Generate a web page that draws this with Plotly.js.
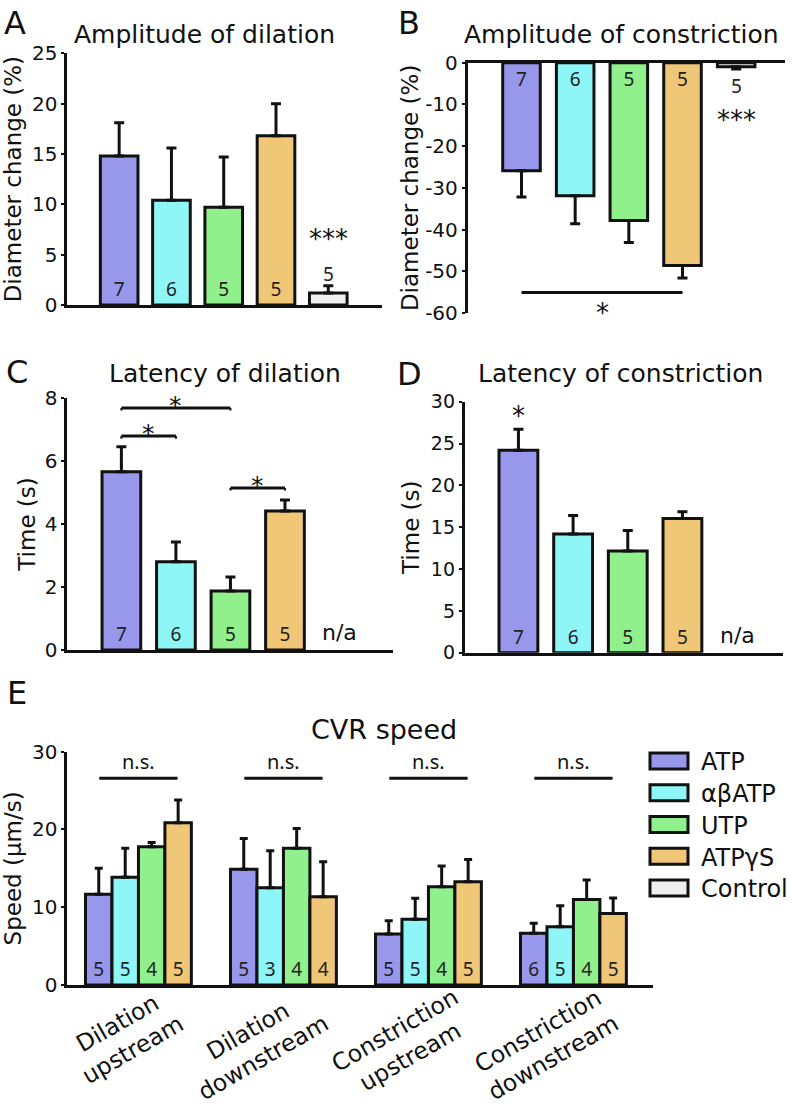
<!DOCTYPE html>
<html><head><meta charset="utf-8">
<script src="https://cdn.plot.ly/plotly-3.0.1.min.js"></script>
<style>html,body{margin:0;padding:0;background:#fff}#chart{width:793px;height:1109px}</style>
</head><body><div id="chart"></div>
<script>
// ---------- data ----------
const agents = ['ATP', 'αβATP', 'UTP', 'ATPγS', 'Control'];
const agentColors = ['#9797EB', '#8FF6F8', '#8FF08C', '#F0C677', '#EEEFEE'];

// A: amplitude of dilation (%)
const dilAmp    = [14.8, 10.4, 9.7, 16.8, 1.2];
const dilAmpSem = [3.3, 5.2, 5.0, 3.2, 0.7];
const dilAmpN   = [7, 6, 5, 5, 5];

// B: amplitude of constriction (%)
const conAmp    = [-25.9, -31.9, -37.8, -48.6, -1.0];
const conAmpSem = [6.3, 6.7, 5.3, 3.0, 0.5];
const conAmpN   = [7, 6, 5, 5, 5];

// C: latency of dilation (s) – Control n/a
const dilLat    = [5.66, 2.80, 1.87, 4.41, null];
const dilLatSem = [0.79, 0.63, 0.45, 0.35, null];
const dilLatN   = [7, 6, 5, 5, null];

// D: latency of constriction (s) – Control n/a
const conLat    = [24.2, 14.2, 12.15, 16.05, null];
const conLatSem = [2.5, 2.2, 2.45, 0.8, null];
const conLatN   = [7, 6, 5, 5, null];

// E: CVR speed (µm/s)
const cvrGroups = ['Dilation<br>upstream', 'Dilation<br>downstream', 'Constriction<br>upstream', 'Constriction<br>downstream'];
const cvrATP      = [11.66, 14.9, 6.55, 6.64];
const cvrATPSem   = [3.34, 3.95, 1.72, 1.29];
const cvrATPN     = [5, 5, 5, 6];
const cvrAB       = [13.84, 12.5, 8.44, 7.5];
const cvrABSem    = [3.73, 4.76, 2.7, 2.7];
const cvrABN      = [5, 3, 5, 5];
const cvrUTP      = [17.78, 17.57, 12.64, 11.0];
const cvrUTPSem   = [0.56, 2.57, 2.66, 2.5];
const cvrUTPN     = [4, 4, 4, 4];
const cvrGS       = [20.86, 11.35, 13.28, 9.2];
const cvrGSSem    = [2.92, 4.5, 2.87, 2.0];
const cvrGSN      = [5, 4, 5, 5];

// tick values
const ticksA = [0, 5, 10, 15, 20, 25];
const ticksB = [-60, -50, -40, -30, -20, -10, 0];
const ticksC = [0, 2, 4, 6, 8];
const ticksD = [0, 5, 10, 15, 20, 25, 30];
const ticksE = [0, 10, 20, 30];

// significance
const sigC = [[0, 2, 7.68], [0, 1, 6.79], [2, 3, 5.14]];
const sigB = [[0, 3, -55.1]];
const nsLevel = 26.6;

// ---------- style ----------
const FONT = 'DejaVu Sans';
const NUMFONT = 'Noto Sans';
const INK = '#111';
const zeros = n => new Array(n).fill(0);

function panelBars(xa, ya, x, y, sem, n, cols, up, width, name) {
  return {
    type: 'bar', xaxis: xa, yaxis: ya, x: x, y: y, width: width,
    offsetgroup: 'g', name: name || '', showlegend: !!name,
    marker: {color: cols, line: {color: INK, width: 3}},
    text: n.map(v => (v == null ? '' : String(v))),
    textposition: 'inside', insidetextanchor: 'start', textangle: 0,
    insidetextfont: {family: NUMFONT, size: 19, color: '#222'},
    error_y: up ? {type: 'data', symmetric: false, array: sem, arrayminus: zeros(sem.length), color: INK, thickness: 3, width: 5}
                : {type: 'data', symmetric: false, array: zeros(sem.length), arrayminus: sem, color: INK, thickness: 3, width: 5},
    cliponaxis: false, hoverinfo: 'skip'
  };
}

const data = [];
data.push(panelBars('x', 'y', agents.slice(0, 4), dilAmp.slice(0, 4), dilAmpSem.slice(0, 4), dilAmpN.slice(0, 4), agentColors.slice(0, 4), true, 0.72));
data.push(panelBars('x2', 'y2', agents.slice(0, 4), conAmp.slice(0, 4), conAmpSem.slice(0, 4), conAmpN.slice(0, 4), agentColors.slice(0, 4), false, 0.70));
data.push(panelBars('x3', 'y3', agents, dilLat, dilLatSem, dilLatN, agentColors, true, 0.71));
data.push(panelBars('x4', 'y4', agents, conLat, conLatSem, conLatN, agentColors, true, 0.71));

const cvrSeries = [
  [cvrATP, cvrATPSem, cvrATPN],
  [cvrAB, cvrABSem, cvrABN],
  [cvrUTP, cvrUTPSem, cvrUTPN],
  [cvrGS, cvrGSSem, cvrGSN]
];
cvrSeries.forEach((s, i) => {
  data.push({
    type: 'bar', xaxis: 'x5', yaxis: 'y5', x: cvrGroups, y: s[0], name: agents[i], showlegend: true,
    marker: {color: agentColors[i], line: {color: INK, width: 3}},
    text: s[2].map(String), textposition: 'inside', insidetextanchor: 'start', textangle: 0,
    insidetextfont: {family: NUMFONT, size: 19, color: '#222'},
    error_y: {type: 'data', symmetric: false, array: s[1], arrayminus: zeros(s[1].length), color: INK, thickness: 3, width: 4},
    cliponaxis: false, hoverinfo: 'skip'
  });
});
// Control bars (A & B) – also supply the legend entry
data.push(panelBars('x', 'y', [agents[4]], [dilAmp[4]], [dilAmpSem[4]], [null], [agentColors[4]], true, 0.72, 'Control'));
data.push(panelBars('x2', 'y2', [agents[4]], [conAmp[4]], [conAmpSem[4]], [null], [agentColors[4]], false, 0.70));

// ---------- layout ----------
const W = 793, H = 1109;
const px = v => v / W, py = v => 1 - v / H;

function yax(domBottom, domTop, range, tv, extra) {
  return Object.assign({
    domain: [py(domBottom), py(domTop)], range: range,
    tickmode: 'array', tickvals: tv, ticktext: tv.map(String),
    showline: true, linewidth: 3, linecolor: INK, ticks: 'outside', ticklen: 3, tickwidth: 2, tickcolor: INK,
    showgrid: false, zeroline: false, tickfont: {family: FONT, size: 20, color: INK},
    fixedrange: true
  }, extra || {});
}
function xax(domL, domR, range, cats, extra) {
  return Object.assign({
    domain: [px(domL), px(domR)], range: range, type: 'category', categoryorder: 'array', categoryarray: cats,
    showline: true, linewidth: 3, linecolor: INK, ticks: '', showticklabels: false,
    showgrid: false, zeroline: false, fixedrange: true
  }, extra || {});
}
const ytitle = (t, so) => ({text: t, font: {family: FONT, size: 23, color: INK}, standoff: so});

const layout = {
  width: W, height: H, margin: {l: 0, r: 0, t: 0, b: 0},
  paper_bgcolor: '#fff', plot_bgcolor: 'rgba(0,0,0,0)',
  barmode: 'group', bargap: 0.27, bargroupgap: 0,
  font: {family: FONT, color: INK},
  xaxis:  xax(68, 385, [-0.99, 5.02], agents, {anchor: 'y'}),
  yaxis:  yax(305, 53.3, [0, 25], ticksA, {anchor: 'x', title: ytitle('Diameter change (%)', 4)}),
  xaxis2: xax(472, 792, [-1.0, 4.91], agents, {anchor: 'y2', side: 'top'}),
  yaxis2: yax(313, 62.7, [-60, 0], ticksB, {anchor: 'x2', title: ytitle('Diameter change (%)', 1)}),
  xaxis3: xax(68, 397, [-0.99, 4.99], agents, {anchor: 'y3'}),
  yaxis3: yax(650, 398, [0, 8], ticksC, {anchor: 'x3', title: ytitle('Time (s)', 3)}),
  xaxis4: xax(469, 790, [-0.98, 4.84], agents, {anchor: 'y4'}),
  yaxis4: yax(652.7, 401.7, [0, 30], ticksD, {anchor: 'x4', tickfont: {family: FONT, size: 19, color: INK}, title: ytitle('Time (s)', 5)}),
  xaxis5: xax(68, 659, [-0.49, 3.55], cvrGroups, {anchor: 'y5'}),
  yaxis5: yax(985, 751.7, [0, 30], ticksE, {anchor: 'x5', title: ytitle('Speed (µm/s)', 6)}),
  legend: {x: px(652), y: py(739), xanchor: 'left', yanchor: 'top', font: {family: FONT, size: 24, color: INK},
           bgcolor: 'rgba(0,0,0,0)', itemwidth: 45, tracegroupgap: 0, itemclick: false, itemdoubleclick: false},
  shapes: [], annotations: []
};

const ann = layout.annotations, shp = layout.shapes;
// panel letters
[['A', 15.5, 22.5], ['B', 413, 22.5], ['C', 17, 371.5], ['D', 413.5, 374], ['E', 17.5, 692.5]].forEach(p => {
  ann.push({text: p[0], xref: 'paper', yref: 'paper', x: px(p[1]), y: py(p[2]), xanchor: 'center', yanchor: 'middle',
            showarrow: false, font: {family: FONT, size: 32, color: INK}});
});
// panel titles
[['Amplitude of dilation', 206, 35, 25], ['Amplitude of constriction', 627, 35, 25], ['Latency of dilation', 227, 373, 25],
 ['Latency of constriction', 626, 374, 25], ['CVR speed', 387.5, 729, 27]].forEach(p => {
  ann.push({text: p[0], xref: 'paper', yref: 'paper', x: px(p[1]), y: py(p[2]), xanchor: 'center', yanchor: 'middle',
            showarrow: false, font: {family: FONT, size: p[3], color: INK}});
});

// control n labels and stars
ann.push({text: String(dilAmpN[4]), xref: 'x', yref: 'y', x: agents[4], y: dilAmp[4] + dilAmpSem[4], yanchor: 'bottom', yshift: -3,
          showarrow: false, font: {family: NUMFONT, size: 19, color: '#222'}});
ann.push({text: String(conAmpN[4]), xref: 'x2', yref: 'y2', x: agents[4], y: conAmp[4] - conAmpSem[4], yanchor: 'top', yshift: -2,
          showarrow: false, font: {family: NUMFONT, size: 19, color: '#222'}});
ann.push({text: '***', xref: 'x', yref: 'y', x: agents[4], y: 6.7, yanchor: 'middle', yshift: -1, showarrow: false,
          font: {family: FONT, size: 26, color: INK}});
ann.push({text: '***', xref: 'x2', yref: 'y2', x: agents[4], y: -13, yanchor: 'middle', yshift: -3, showarrow: false,
          font: {family: FONT, size: 26, color: INK}});
// n/a
['x3', 'x4'].forEach(xa => {
  ann.push({text: 'n/a', xref: xa, yref: 'y' + xa.slice(1), x: agents[4], y: 0, yanchor: 'bottom', yshift: 3, showarrow: false,
            font: {family: FONT, size: 22, color: INK}});
});
// significance brackets
function bracket(xa, ya, a, b, y, tick) {
  shp.push({type: 'line', xref: xa, yref: ya, x0: a, x1: b, y0: y, y1: y, line: {color: INK, width: 3}});
  if (tick) {
    shp.push({type: 'line', xref: xa, yref: ya, x0: a, x1: a, y0: y, y1: y - tick, line: {color: INK, width: 2}});
    shp.push({type: 'line', xref: xa, yref: ya, x0: b, x1: b, y0: y, y1: y - tick, line: {color: INK, width: 2}});
  }
}
sigC.forEach(s => {
  bracket('x3', 'y3', s[0], s[1], s[2], 0.08);
  ann.push({text: '*', xref: 'x3', yref: 'y3', x: (s[0] + s[1]) / 2, y: s[2], yanchor: 'middle', yshift: 3, showarrow: false,
            font: {family: FONT, size: 25, color: INK}});
});
sigB.forEach(s => {
  bracket('x2', 'y2', s[0], s[1], s[2], 0);
  ann.push({text: '*', xref: 'x2', yref: 'y2', x: (s[0] + s[1]) / 2, y: s[2], yanchor: 'middle', yshift: -20, showarrow: false,
            font: {family: FONT, size: 26, color: INK}});
});
ann.push({text: '*', xref: 'x4', yref: 'y4', x: agents[0], y: conLat[0] + conLatSem[0], yanchor: 'middle', yshift: 13, showarrow: false,
          font: {family: FONT, size: 26, color: INK}});

// E: n.s. bars and group labels
cvrGroups.forEach((g, i) => {
  shp.push({type: 'line', xref: 'x5', yref: 'y5', x0: i - 0.27, x1: i + 0.27, y0: nsLevel, y1: nsLevel, line: {color: INK, width: 3}});
  ann.push({text: 'n.s.', xref: 'x5', yref: 'y5', x: i, y: nsLevel, yanchor: 'bottom', yshift: 1, showarrow: false,
            font: {family: NUMFONT, size: 20, color: INK}});
  ann.push({text: g, xref: 'x5', yref: 'y5', x: i, y: 0, xanchor: 'right', yanchor: 'top', xshift: 53, yshift: 5,
            textangle: -30, align: 'center', showarrow: false, font: {family: FONT, size: 23.5, color: INK}});
});

const gd = document.getElementById('chart');
Plotly.newPlot(gd, data, layout, {staticPlot: true, displayModeBar: false}).then(() => {
  gd.querySelectorAll('.legend .legendpoints path').forEach(p => p.setAttribute('d', 'M-23.5,-8H14.5V8H-23.5Z'));
  // tighten legend row spacing to match the reference
  const items = Array.from(gd.querySelectorAll('.legend .traces'));
  const pos = items.map(g => {
    const m = /translate\(\s*([-\d.]+)[ ,]+([-\d.]+)\s*\)/.exec(g.getAttribute('transform') || '');
    return m ? [parseFloat(m[1]), parseFloat(m[2])] : null;
  });
  if (pos.length && pos.every(p => p)) {
    const y0 = pos[0][1];
    items.forEach((g, i) => g.setAttribute('transform', 'translate(' + pos[i][0] + ',' + (y0 + (pos[i][1] - y0) * 31.7 / 34.2) + ')'));
  }
});
</script>
</body></html>
